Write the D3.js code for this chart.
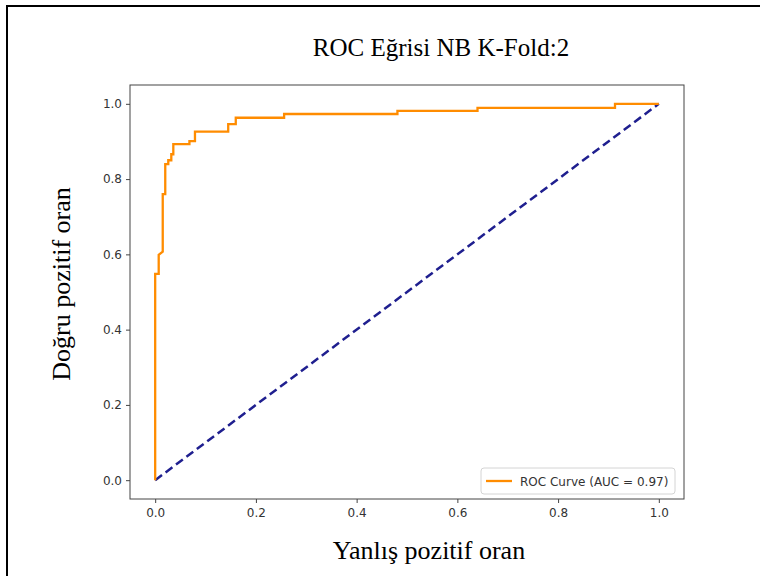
<!DOCTYPE html>
<meta charset="utf-8">
<body style="margin:0;background:#fff">
<div id="chart"></div>
<script src="https://d3js.org/d3.v7.min.js"></script>
<script>
// ROC curve points
var fpr = [0, 0, 0.007, 0.007, 0.015, 0.015, 0.020, 0.020, 0.026, 0.026, 0.032, 0.032, 0.036, 0.036,
  0.068, 0.068, 0.079, 0.079, 0.145, 0.145, 0.160, 0.160, 0.256, 0.256, 0.481, 0.481, 0.640, 0.640,
  0.913, 0.913, 1.0];
var tpr = [0, 0.548, 0.548, 0.599, 0.607, 0.760, 0.760, 0.840, 0.840, 0.850, 0.850, 0.866, 0.866, 0.893,
  0.893, 0.901, 0.901, 0.926, 0.926, 0.946, 0.946, 0.963, 0.963, 0.973, 0.973, 0.981, 0.981, 0.989,
  0.989, 1.0, 1.0];
var diagonal = [0, 1];
var ticks = [0, 0.2, 0.4, 0.6, 0.8, 1.0];
var title = "ROC Eğrisi NB K-Fold:2";
var xTitle = "Yanlış pozitif oran";
var yTitle = "Doğru pozitif oran";
var legendLabel = "ROC Curve (AUC = 0.97)";

var W = 760, H = 576;
var m = {left: 130, right: 684, top: 85, bottom: 499};

var svg = d3.select("#chart").append("svg")
  .attr("width", W).attr("height", H);

// outer frame of the pasted figure
svg.append("rect")
  .attr("x", 7).attr("y", 6)
  .attr("width", W + 10).attr("height", H + 10)
  .attr("fill", "none").attr("stroke", "#000").attr("stroke-width", 2);

var x = d3.scaleLinear().domain([-0.05, 1.05]).range([m.left, m.right]);
var y = d3.scaleLinear().domain([-0.05, 1.05]).range([m.bottom, m.top]);

var tickFmt = d3.format(".1f");

var gx = svg.append("g")
  .attr("transform", "translate(0," + m.bottom + ")")
  .call(d3.axisBottom(x).tickValues(ticks).tickFormat(tickFmt).tickSize(4).tickPadding(5).tickSizeOuter(0));
var gy = svg.append("g")
  .attr("transform", "translate(" + m.left + ",0)")
  .call(d3.axisLeft(y).tickValues(ticks).tickFormat(tickFmt).tickSize(4).tickPadding(4).tickSizeOuter(0));

[gx, gy].forEach(function(g) {
  g.select(".domain").remove();
  g.selectAll("line").attr("stroke", "#444");
  g.selectAll("text")
    .style("font-family", "DejaVu Sans")
    .style("font-size", "12px")
    .attr("fill", "#333");
});

// axes box
svg.append("rect")
  .attr("x", m.left).attr("y", m.top)
  .attr("width", m.right - m.left).attr("height", m.bottom - m.top)
  .attr("fill", "none").attr("stroke", "#444").attr("stroke-width", 1);

// diagonal
svg.append("line")
  .attr("x1", x(diagonal[0])).attr("y1", y(diagonal[0]))
  .attr("x2", x(diagonal[1])).attr("y2", y(diagonal[1]))
  .attr("stroke", "#1f1f8f").attr("stroke-width", 2.5)
  .attr("stroke-dasharray", "8.5,4.5");

// ROC curve
var pts = fpr.map(function(d, i) { return [d, tpr[i]]; });
svg.append("path")
  .datum(pts)
  .attr("fill", "none")
  .attr("stroke", "#ff8c00")
  .attr("stroke-width", 2.3)
  .attr("d", d3.line().x(function(d) { return x(d[0]); }).y(function(d) { return y(d[1]); }));

// legend
var lg = svg.append("g").attr("transform", "translate(481,468)");
lg.append("rect")
  .attr("width", 194).attr("height", 26).attr("rx", 3)
  .attr("fill", "#fff").attr("fill-opacity", 0.8)
  .attr("stroke", "#d4d4d4");
lg.append("line")
  .attr("x1", 5).attr("x2", 31).attr("y1", 13).attr("y2", 13)
  .attr("stroke", "#ff8c00").attr("stroke-width", 2.3);
lg.append("text")
  .attr("x", 39).attr("y", 17.5)
  .style("font-family", "DejaVu Sans").style("font-size", "12px")
  .attr("fill", "#333")
  .text(legendLabel);

// titles
svg.append("text")
  .attr("x", 441).attr("y", 56)
  .attr("text-anchor", "middle")
  .style("font-family", "Liberation Serif").style("font-size", "25px")
  .text(title);
svg.append("text")
  .attr("x", 429).attr("y", 559)
  .attr("text-anchor", "middle")
  .style("font-family", "Liberation Serif").style("font-size", "26px")
  .text(xTitle);
svg.append("text")
  .attr("transform", "translate(70,284) rotate(-90)")
  .attr("text-anchor", "middle")
  .style("font-family", "Liberation Serif").style("font-size", "26px")
  .text(yTitle);
</script>
</body>
